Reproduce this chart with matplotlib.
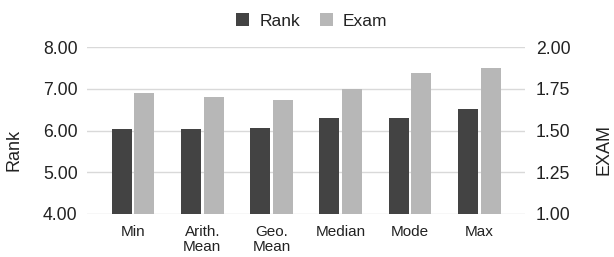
import matplotlib
matplotlib.use("Agg")
import matplotlib.pyplot as plt
import numpy as np

categories = ["Min", "Arith.\nMean", "Geo.\nMean", "Median", "Mode", "Max"]
rank = [6.04, 6.04, 6.07, 6.29, 6.30, 6.51]
exam = [1.726, 1.704, 1.684, 1.75, 1.848, 1.874]
left_ticks = [4.0, 5.0, 6.0, 7.0, 8.0]
right_ticks = [1.0, 1.25, 1.5, 1.75, 2.0]

plt.rcParams['font.family'] = ['Liberation Sans', 'DejaVu Sans']

fig = plt.figure(figsize=(6.14, 2.57), dpi=100)
ax = fig.add_axes([87.3/614, 1-213.7/257, (525-87.3)/614, (213.7-47.3)/257])
ax2 = ax.twinx()

x = np.arange(len(categories))
w = 0.29
off = 0.164
dark = "#434343"
light = "#b7b7b7"

ax.set_ylim(4, 8)
ax2.set_ylim(1, 2)
ax.set_xlim(-0.66, 5.66)

b1 = ax.bar(x - off, rank, width=w, color=dark, zorder=3, label="Rank")
b2 = ax2.bar(x + off, exam, width=w, color=light, zorder=3, label="Exam")

ax.set_yticks(left_ticks)
ax.set_yticklabels([f"{v:.2f}" for v in left_ticks])
ax2.set_yticks(right_ticks)
ax2.set_yticklabels([f"{v:.2f}" for v in right_ticks])
ax.set_xticks(x)
ax.set_xticklabels(categories, fontsize=11, color="#222222", linespacing=1.1)

ax.grid(axis='y', color="#d9d9d9", linewidth=1.0, zorder=0)
ax.set_axisbelow(True)
ax2.set_zorder(ax.get_zorder() + 1)
ax2.patch.set_visible(False)

for a in (ax, ax2):
    for s in a.spines.values():
        s.set_visible(False)
    a.tick_params(axis='both', length=0, labelsize=12.7, labelcolor="#222222")
ax.tick_params(axis='y', pad=7)
ax2.tick_params(axis='y', pad=8)
ax.tick_params(axis='x', pad=8, labelsize=11)

ax.set_ylabel("Rank", fontsize=13, color="#222222")
ax2.set_ylabel("EXAM", fontsize=13, color="#222222")
ax.yaxis.set_label_coords(-0.147, 0.383)
ax2.yaxis.set_label_coords(1.162, 0.383)

fig.legend([b1, b2], ["Rank", "Exam"], loc="center", bbox_to_anchor=(0.508, 0.919),
           ncol=2, frameon=False, fontsize=12.5, handlelength=0.75, handleheight=0.75,
           handletextpad=0.6, columnspacing=1.1, labelcolor="#222222")

fig.savefig("out.png", dpi=100)
